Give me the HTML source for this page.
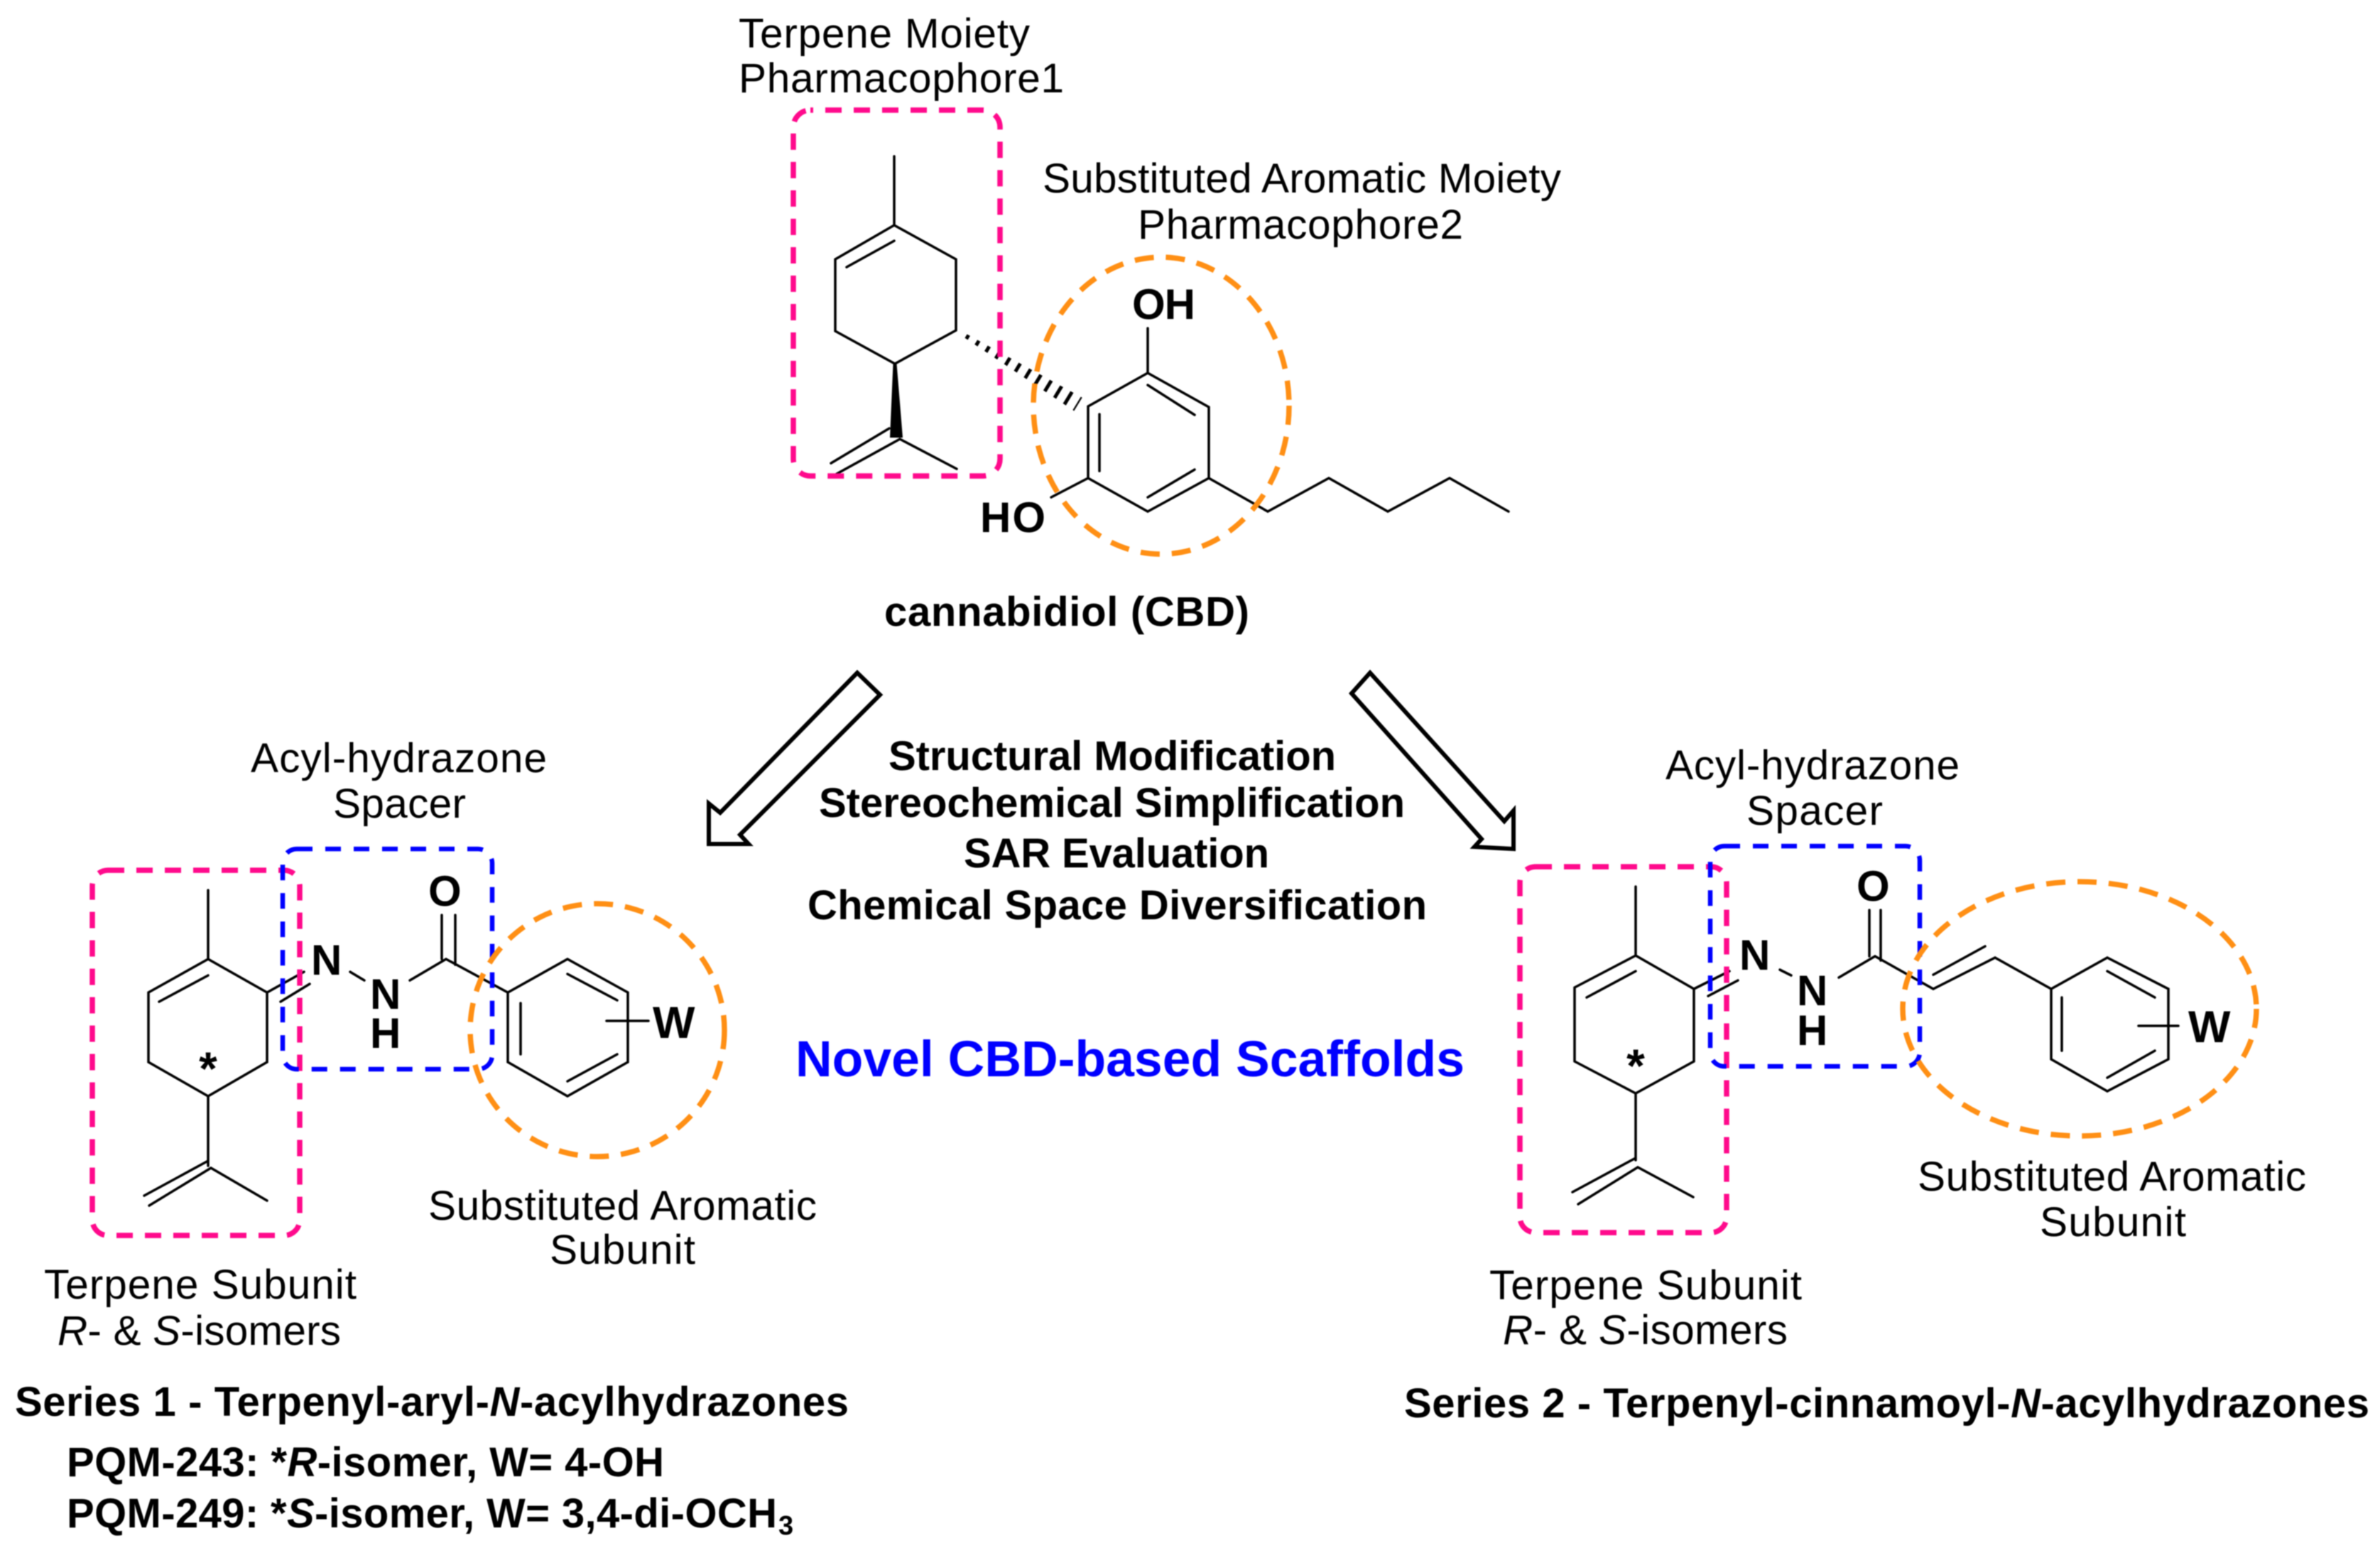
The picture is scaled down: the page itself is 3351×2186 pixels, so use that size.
<!DOCTYPE html>
<html>
<head>
<meta charset="utf-8">
<style>
html,body{margin:0;padding:0;background:#fff;width:3351px;height:2186px;overflow:hidden}
svg{display:block;filter:blur(.9px)}
text{font-family:"Liberation Sans",Arial,sans-serif;fill:#000}
.r{font-size:58.5px}
.b{font-size:58px;font-weight:bold}
.a{font-size:60px;font-weight:bold}
.s{fill:none;stroke:#000;stroke-width:3.5;stroke-linecap:round;stroke-linejoin:miter}
.pink{fill:none;stroke:#ff0a8c;stroke-width:7.5;stroke-dasharray:23 17}
.blue{fill:none;stroke:#0000ff;stroke-width:6.5;stroke-dasharray:22 18}
.or{fill:none;stroke:#ff8f14;stroke-width:7.5;stroke-dasharray:27 17}
</style>
</head>
<body>
<svg width="3351" height="2186" viewBox="0 0 3351 2186" xmlns="http://www.w3.org/2000/svg">
<defs>
<clipPath id="h"><polygon points="1361.5,470.4 1358.4,475.6 1512.3,578.4 1523.7,559.6"/></clipPath>
</defs>
<rect width="3351" height="2186" fill="#fff"/>

<!-- Top: CBD -->
<path class="s" d="M1259 220V317L1346 365V465L1260 512L1176 466V365L1259 317M1192 376L1259 339"/>
<polygon points="1257.5,512 1262.5,512 1271,616 1253,616" fill="#000"/>
<path class="s" d="M1252 603L1170 652M1267 618L1178 667M1267 618L1347 660"/>
<line x1="1360" y1="473" x2="1520" y2="570" stroke="#000" stroke-width="32" stroke-dasharray="5 11.6" clip-path="url(#h)"/>
<path class="s" d="M1616 525L1702 573V673L1616 720L1532 673V572ZM1616 542L1682 584M1548 583V663M1616 700L1682 661M1616 525V462M1532 673L1480 700M1702 673L1785 720L1871 673L1954 720L2041 673L2124 720"/>
<rect class="pink" x="1117" y="155" width="291" height="515" rx="24" stroke-dashoffset="19"/>
<ellipse class="or" cx="1635" cy="571" rx="180" ry="209"/>

<text class="r" x="1040" y="67" textLength="410">Terpene Moiety</text>
<text class="r" x="1040" y="130" textLength="458">Pharmacophore1</text>
<text class="r" x="1468" y="271" textLength="730">Substituted Aromatic Moiety</text>
<text class="r" x="1602" y="336" textLength="458">Pharmacophore2</text>
<text class="a" x="1594" y="449" textLength="89">OH</text>
<text class="a" x="1380" y="749" textLength="92">HO</text>
<text class="b" x="1245" y="881" textLength="514">cannabidiol (CBD)</text>

<!-- Arrows -->
<polygon points="1207,947 1239,978 1042,1175 1054,1188 998,1188 998,1131 1014,1144" fill="#fff" stroke="#000" stroke-width="6"/>
<polygon points="1929,947 1903,976 2086,1181 2076,1192 2131,1195 2131,1141 2118,1156" fill="#fff" stroke="#000" stroke-width="6"/>

<!-- Center text -->
<text class="b" x="1251" y="1084" textLength="630">Structural Modification</text>
<text class="b" x="1153" y="1150" textLength="825">Stereochemical Simplification</text>
<text class="b" x="1357" y="1221" textLength="430">SAR Evaluation</text>
<text class="b" x="1137" y="1294" textLength="872">Chemical Space Diversification</text>
<text x="1120" y="1515" textLength="942" style="font-size:71.5px;font-weight:bold;fill:#0000ff">Novel CBD-based Scaffolds</text>

<!-- Left molecule -->
<path class="s" d="M293 1253V1350L376 1397V1495L293 1543L209 1495V1397L293 1350M224 1410L293 1373M293 1543V1641M293 1634L203 1683M297 1644L210 1697M297 1644L376 1690M376 1397L428 1368M395 1410L436 1385M493 1368L513 1380M577 1380L628 1350M622 1288V1350M641 1288V1358M628 1350L715 1397L799 1350L884 1397V1495L799 1543L715 1495V1397M799 1371L869 1408M733 1412V1484M799 1522L869 1484M854 1437H913"/>
<rect class="pink" x="130" y="1225" width="292" height="514" rx="22"/>
<rect class="blue" x="398" y="1195" width="295" height="310" rx="20"/>
<ellipse class="or" cx="841" cy="1450" rx="179" ry="178"/>
<text x="293" y="1527" text-anchor="middle" style="font-size:66px;font-weight:bold">*</text>
<text class="a" x="438" y="1372">N</text>
<text class="a" x="521" y="1420">N</text>
<text class="a" x="521" y="1475">H</text>
<text class="a" x="603" y="1275">O</text>
<text class="a" x="919" y="1461" style="font-size:63px">W</text>
<text class="r" x="353" y="1087" textLength="417">Acyl-hydrazone</text>
<text class="r" x="469" y="1151" textLength="187">Spacer</text>
<text class="r" x="603" y="1717" textLength="547">Substituted Aromatic</text>
<text class="r" x="774" y="1779" textLength="205">Subunit</text>
<text class="r" x="62" y="1828" textLength="440">Terpene Subunit</text>
<text class="r" x="81" y="1893" textLength="399"><tspan font-style="italic">R</tspan>- &amp; <tspan font-style="italic">S</tspan>-isomers</text>
<text class="b" x="21" y="1993" textLength="1174">Series 1 - Terpenyl-aryl-<tspan font-style="italic">N</tspan>-acylhydrazones</text>
<text class="b" x="94" y="2078" textLength="841">PQM-243: *<tspan font-style="italic">R</tspan>-isomer, W= 4-OH</text>
<text class="b" x="94" y="2150" textLength="1000">PQM-249: *<tspan font-style="italic">S</tspan>-isomer, W= 3,4-di-OCH</text>
<text class="b" x="1096" y="2160" style="font-size:38px">3</text>

<!-- Right molecule -->
<path class="s" d="M2303 1248V1345L2385 1392V1494L2303 1539L2217 1494V1390L2303 1345M2234 1404L2303 1367M2303 1539V1633M2303 1630L2214 1678M2306 1643L2222 1695M2306 1643L2384 1685M2385 1392L2435 1367M2405 1402L2447 1380M2506 1365L2522 1373M2589 1376L2640 1346M2632 1281V1346M2648 1281V1352M2640 1346L2722 1392L2809 1348L2888 1392L2967 1348L3053 1392V1491L2967 1536L2888 1491V1392M2722 1372L2795 1332M2967 1367L3034 1404M2903 1404V1479M2967 1517L3034 1479M3011 1444H3067"/>
<rect class="pink" x="2140" y="1220" width="291" height="515" rx="22"/>
<rect class="blue" x="2408" y="1191" width="295" height="310" rx="20"/>
<ellipse class="or" cx="2928" cy="1420" rx="249" ry="179"/>
<text x="2303" y="1523" text-anchor="middle" style="font-size:66px;font-weight:bold">*</text>
<text class="a" x="2449" y="1365">N</text>
<text class="a" x="2530" y="1415">N</text>
<text class="a" x="2530" y="1471">H</text>
<text class="a" x="2614" y="1268">O</text>
<text class="a" x="3081" y="1467" style="font-size:63px">W</text>
<text class="r" x="2345" y="1097" textLength="414">Acyl-hydrazone</text>
<text class="r" x="2459" y="1161" textLength="192">Spacer</text>
<text class="r" x="2700" y="1676" textLength="547">Substituted Aromatic</text>
<text class="r" x="2872" y="1740" textLength="206">Subunit</text>
<text class="r" x="2097" y="1829" textLength="440">Terpene Subunit</text>
<text class="r" x="2116" y="1892" textLength="401"><tspan font-style="italic">R</tspan>- &amp; <tspan font-style="italic">S</tspan>-isomers</text>
<text class="b" x="1977" y="1995" textLength="1359">Series 2 - Terpenyl-cinnamoyl-<tspan font-style="italic">N</tspan>-acylhydrazones</text>
</svg>
</body>
</html>
